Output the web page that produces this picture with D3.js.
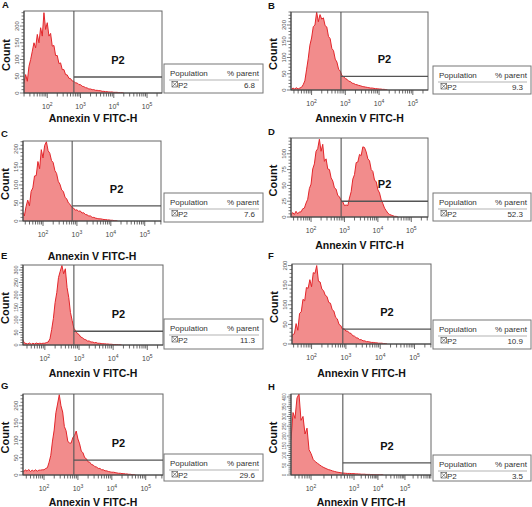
<!DOCTYPE html>
<html><head><meta charset="utf-8">
<script src="https://cdn.jsdelivr.net/npm/d3@7"></script>
<style>body{margin:0;background:#fff}svg{display:block}text{font-family:"Liberation Sans",Arial,Helvetica,sans-serif}</style>
</head><body>
<svg id="c" width="532" height="507"></svg>
<script>
// ---------------- DATA ----------------
const panelLetters = ["A","B","C","D","E","F","G","H"];
const populationName = "P2";
const percentParent = ["6.8","9.3","7.6","52.3","11.3","10.9","29.6","3.5"];
const xAxisTitle = "Annexin V FITC-H";
const yAxisTitle = "Count";
const xTickExponents = [2,3,4,5];
// gate (P2) threshold in log10 intensity, and gate line height in counts
const gateLog = [2.80,2.87,2.86,2.90,2.85,2.91,2.88,2.74];
const gateCount = [48,42,42,25,55,38,43,62];
// y axis
const yMaxCount = [245,240,222,125,320,204,234,415];
const yTickStep = [50,50,50,25,50,50,50,50];
const yTickMax = [200,200,200,100,300,200,200,400];
// histogram bins: log10 intensity of first bin, fixed step
const binStart = [1.3,1.3,1.3,1.3,1.3,1.3,1.3,1.5];
const binStep = 0.05;
const countsA = [30,55,35,80,100,125,150,135,175,150,195,170,240,190,210,170,178,140,142,112,112,88,90,70,70,55,54,44,43,36,35,30,30,25,25,20,19,16,15,12,12,10,10,8,8,7,7,5,5,4,4,3,3,3,2,2,2,1,1,1,0];
const countsB = [4,7,2,6,3,7,3,6,8,16,28,62,96,138,160,195,200,240,210,232,218,222,198,194,165,158,128,121,95,86,64,58,44,41,35,33,27,26,21,20,17,16,14,13,11,10,9,8,7,6,6,5,4,4,3,3,2,2,1,0];
const countsC = [15,22,25,14,40,58,42,82,92,125,126,165,145,198,175,210,220,195,188,168,162,140,132,110,102,86,82,66,61,50,46,38,36,30,31,27,28,22,23,18,17,14,14,10,10,8,7,6,6,5,4,4,3,3,2,2,1,1,0];
const countsD = [5,8,3,7,4,9,5,8,8,13,14,22,28,45,52,76,84,104,108,123,104,115,88,92,76,75,62,57,46,44,34,32,26,24,18,19,18,30,40,60,67,86,87,99,97,111,110,103,92,89,75,72,58,56,43,38,27,21,14,10,6,4,3,2,1,1,0];
const countsE = [15,22,8,6,4,8,3,7,4,8,5,7,6,7,7,10,12,25,62,106,170,210,270,295,318,285,305,230,190,130,98,67,57,46,42,32,29,23,21,16,16,12,12,9,10,7,7,6,5,5,4,4,3,3,2,2,2,1,1,0];
const countsF = [10,18,10,24,26,52,35,78,82,114,110,144,142,164,146,182,180,200,160,158,140,136,124,121,106,104,88,84,68,64,50,47,38,39,33,33,28,27,21,20,16,15,11,11,8,8,6,6,5,4,4,3,3,2,2,2,1,1,0];
const countsG = [12,16,9,15,11,16,10,14,11,15,11,14,14,15,15,19,21,37,57,98,130,180,205,232,200,182,140,128,98,92,92,108,114,127,104,90,69,64,50,47,38,37,30,29,24,23,19,19,15,15,12,12,10,9,8,8,7,6,5,5,4,4,3,3,2,2,1,1,0];
const countsH = [180,320,290,395,415,280,300,210,240,130,110,80,68,60,52,44,38,33,28,25,21,18,15,13,11,10,9,8,8,7,7,6,6,6,5,5,4,4,4,4,3,3,3,3,2,2,2,2,2,1,1,1,1,1,0];
const allCounts = [countsA,countsB,countsC,countsD,countsE,countsF,countsG,countsH];
// x axis extents (log10) for panels A-G; panel H uses a non-uniform display
const xDomainLog = [[1.3,5.45],[1.39,5.45],[1.41,5.48],[1.4,5.5],[1.36,5.46],[1.43,5.48],[1.38,5.51],null];
const hAnchorLog = [1.5,2,3,4,5,5.96];

// ---------------- LAYOUT ----------------
const layout = [
 {box:[24,11,162,93],  leg:[164,64,263,93],  title:122, letter:[2,8],   yFont:6},
 {box:[291,12,428,90], leg:[433,66,531,94],  title:122, letter:[268,9], yFont:6},
 {box:[23,141,161,221],leg:[164,193,263,222],title:260, letter:[1,137], yFont:6},
 {box:[291,138,428,217],leg:[433,193,531,221],title:249, letter:[268,135], yFont:6},
 {box:[23,265,163,345],leg:[164,319,263,349],title:377, letter:[1,259], yFont:5.5},
 {box:[292,264,431,344],leg:[433,320,531,349],title:377, letter:[268,259], yFont:6},
 {box:[23,394,163,475],leg:[164,454,263,481],title:506, letter:[1,389], yFont:6},
 {box:[291,394,431,475],leg:[433,455,531,481],title:506, letter:[268,390], yFont:4.6},
];
const hAnchorFrac = [0,0.143,0.45,0.621,0.814,1];

const svg = d3.select("#c");
const fillCol = "#f28c8c", lineCol = "#e3262b", axisCol = "#444";

layout.forEach((L,i)=>{
  const [x0,y0,x1,y1] = L.box;
  let xs;
  if (xDomainLog[i]) {
    xs = d3.scaleLog().domain(xDomainLog[i].map(v=>Math.pow(10,v))).range([x0,x1]);
  } else {
    xs = d3.scaleLog().domain(hAnchorLog.map(v=>Math.pow(10,v))).range(hAnchorFrac.map(f=>x0+f*(x1-x0)));
  }
  const ys = d3.scaleLinear().domain([0,yMaxCount[i]]).range([y1,y0]);
  const g = svg.append("g");

  const cid = "clip"+i;
  svg.append("clipPath").attr("id",cid).append("rect")
    .attr("x",x0).attr("y",y0).attr("width",x1-x0).attr("height",y1-y0);

  // histogram
  const pts = allCounts[i].map((c,j)=>[Math.pow(10,binStart[i]+j*binStep), c]);
  const area = d3.area().x(d=>xs(d[0])).y0(ys(0)).y1(d=>ys(d[1]));
  const line = d3.line().x(d=>xs(d[0])).y(d=>ys(d[1]));
  g.append("path").attr("clip-path",`url(#${cid})`).attr("d",area(pts))
    .attr("fill",fillCol).attr("stroke","none");
  g.append("path").attr("clip-path",`url(#${cid})`).attr("d",line(pts))
    .attr("fill","none").attr("stroke",lineCol).attr("stroke-width",1).attr("stroke-linejoin","round");

  // frame
  g.append("rect").attr("x",x0).attr("y",y0).attr("width",x1-x0).attr("height",y1-y0)
    .attr("fill","none").attr("stroke","#666").attr("stroke-width",1);
  g.append("line").attr("x1",x0).attr("x2",x0).attr("y1",y0).attr("y2",y1).attr("stroke",axisCol);
  g.append("line").attr("x1",x0).attr("x2",x1).attr("y1",y1).attr("y2",y1).attr("stroke",axisCol);

  // gate
  const gx = xs(Math.pow(10,gateLog[i])), gy = ys(gateCount[i]);
  g.append("line").attr("x1",gx).attr("x2",gx).attr("y1",y0).attr("y2",y1).attr("stroke","#555").attr("stroke-width",1.1);
  g.append("line").attr("x1",gx).attr("x2",x1).attr("y1",gy).attr("y2",gy).attr("stroke","#555").attr("stroke-width",1.4);
  g.append("text").attr("x",(gx+x1)/2).attr("y",gy-13).attr("text-anchor","middle")
    .attr("font-size",11).attr("font-weight","bold").attr("fill","#111").text(populationName);

  // x ticks
  const dom = xs.domain(), dlo = dom[0], dhi = dom[dom.length-1];
  for (let k=Math.floor(Math.log10(dlo)); k<=Math.ceil(Math.log10(dhi)); k++) {
    for (let m=1;m<=9;m++){
      const v = m*Math.pow(10,k);
      if (v<dlo || v>dhi) continue;
      const X = xs(v);
      g.append("line").attr("x1",X).attr("x2",X).attr("y1",y1).attr("y2",y1+(m===1?5:3.5))
        .attr("stroke",axisCol).attr("stroke-width",0.8);
    }
  }
  xTickExponents.forEach(e=>{
    const t = g.append("text").attr("x",xs(Math.pow(10,e))).attr("y",y1+16)
      .attr("text-anchor","middle").attr("font-size",7).attr("fill","#444");
    t.append("tspan").text("10");
    t.append("tspan").attr("dy",-3).attr("font-size",5).text(e);
  });

  // y ticks
  const minor = yTickStep[i]/5;
  for (let v=0; v<=yMaxCount[i]; v+=minor) {
    const Y = ys(v); const major = Math.abs(v % yTickStep[i])<1e-6 && v<=yTickMax[i];
    g.append("line").attr("x1",x0).attr("x2",x0-(major?4:2.5)).attr("y1",Y).attr("y2",Y)
      .attr("stroke",axisCol).attr("stroke-width",0.7);
  }
  for (let v=0; v<=yTickMax[i]; v+=yTickStep[i]) {
    const Y = ys(v);
    g.append("text").attr("transform",`translate(${x0-5},${Y}) rotate(-90)`)
      .attr("text-anchor","middle").attr("font-size",L.yFont).attr("fill","#555").text(v);
  }

  // axis titles
  g.append("text").attr("x",(x0+x1)/2).attr("y",L.title).attr("text-anchor","middle")
    .attr("font-size",10.5).attr("font-weight","bold").attr("fill","#111").text(xAxisTitle);
  g.append("text").attr("transform",`translate(${x0-14.5},${(y0+y1)/2+3}) rotate(-90)`)
    .attr("text-anchor","middle").attr("font-size",11).attr("font-weight","bold").attr("fill","#111").text(yAxisTitle);

  // panel letter
  g.append("text").attr("x",L.letter[0]).attr("y",L.letter[1]).attr("font-size",9.5)
    .attr("font-weight","bold").attr("fill","#111").text(panelLetters[i]);

  // legend table
  const [lx0,ly0,lx1,ly1] = L.leg;
  g.append("rect").attr("x",lx0).attr("y",ly0).attr("width",lx1-lx0).attr("height",ly1-ly0)
    .attr("fill","#fff").attr("stroke","#777").attr("stroke-width",1);
  g.append("text").attr("x",lx0+6).attr("y",ly0+12).attr("font-size",8).attr("fill","#333").text("Population");
  g.append("text").attr("x",lx1-4).attr("y",ly0+12).attr("text-anchor","end").attr("font-size",8).attr("fill","#333").text("% parent");
  g.append("line").attr("x1",lx0+5).attr("x2",lx1-4).attr("y1",ly0+16).attr("y2",ly0+16).attr("stroke","#ccc").attr("stroke-width",1.3);
  const ry = ly0+23.5;
  g.append("rect").attr("x",lx0+8).attr("y",ry-6).attr("width",5.5).attr("height",5.5).attr("fill","none").attr("stroke","#444").attr("stroke-width",0.6);
  g.append("path").attr("d",`M${lx0+8},${ry-6}L${lx0+13.5},${ry-0.5}M${lx0+13.5},${ry-6}L${lx0+8},${ry-0.5}`).attr("stroke","#444").attr("stroke-width",0.6);
  g.append("text").attr("x",lx0+14).attr("y",ry).attr("font-size",8).attr("fill","#333").text(populationName);
  g.append("text").attr("x",lx1-8).attr("y",ry).attr("text-anchor","end").attr("font-size",8).attr("fill","#333").text(percentParent[i]);
});
</script>
</body></html>
